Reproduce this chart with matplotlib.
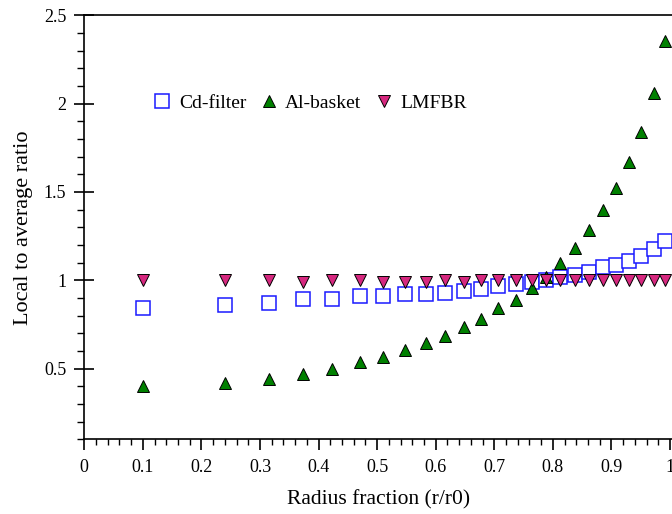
import numpy as np
import matplotlib
matplotlib.use('Agg')
import matplotlib.pyplot as plt
from matplotlib.ticker import FixedLocator, MultipleLocator

plt.rcParams['font.family'] = ['Liberation Serif', 'DejaVu Serif']

# radius fraction of each ring
radius = [0.1, 0.24, 0.315, 0.373, 0.423, 0.47, 0.51, 0.548, 0.583, 0.616,
          0.648, 0.677, 0.707, 0.737, 0.764, 0.789, 0.813, 0.838, 0.862,
          0.886, 0.907, 0.93, 0.951, 0.972, 0.992]

cd_filter = [0.842, 0.862, 0.872, 0.892, 0.892, 0.91, 0.91, 0.921, 0.921, 0.93,
             0.94, 0.95, 0.97, 0.979, 0.989, 1.0, 1.02, 1.03, 1.047,
             1.077, 1.087, 1.108, 1.138, 1.175, 1.225]

al_basket = [0.40, 0.42, 0.44, 0.469, 0.50, 0.536, 0.566, 0.608, 0.645, 0.686,
             0.735, 0.782, 0.842, 0.89, 0.955, 1.02, 1.096, 1.185, 1.283,
             1.40, 1.52, 1.667, 1.842, 2.06, 2.354]

lmfbr = [1.0, 1.0, 1.0, 0.99, 1.0, 1.0, 0.99, 0.99, 0.99, 1.0,
         0.99, 1.0, 1.0, 1.0, 1.0, 1.0, 1.0, 1.0, 1.0,
         1.0, 1.0, 1.0, 1.0, 1.0, 1.0]

x_ticks = [0, 0.1, 0.2, 0.3, 0.4, 0.5, 0.6, 0.7, 0.8, 0.9, 1.0]
x_labels = ['0', '0.1', '0.2', '0.3', '0.4', '0.5', '0.6', '0.7', '0.8', '0.9', '1']
y_ticks = [0.5, 1.0, 1.5, 2.0, 2.5]
y_labels = ['0.5', '1', '1.5', '2', '2.5']

fig = plt.figure(figsize=(6.72, 5.14), dpi=100)
ax = fig.add_axes([84.3 / 672, (514 - 439.3) / 514, 1 - 84.3 / 672, (439.3 - 15.3) / 514])

ax.plot(radius, cd_filter, ls='none', marker='s', ms=10, mfc='white',
        mec='#1a1aff', mew=1.1, label='Cd-filter')
ax.plot(radius, al_basket, ls='none', marker='^', ms=8.5, mfc='#008000',
        mec='black', mew=0.7, label='Al-basket')
ax.plot(radius, lmfbr, ls='none', marker='v', ms=8.5, mfc='#d6287f',
        mec='black', mew=0.7, label='LMFBR')

ax.set_xlim(0, (672 - 84.3) / 585.7)
ax.set_ylim(0.1, 2.5)

ax.xaxis.set_major_locator(FixedLocator(x_ticks))
ax.set_xticklabels(x_labels)
ax.xaxis.set_minor_locator(MultipleLocator(0.02))
ax.yaxis.set_major_locator(FixedLocator(y_ticks))
ax.set_yticklabels(y_labels)
ax.yaxis.set_minor_locator(MultipleLocator(0.1))

ax.spines['right'].set_visible(False)
for s in ['left', 'bottom', 'top']:
    ax.spines[s].set_linewidth(1.2)

ax.tick_params(axis='x', which='major', direction='out', length=8, width=1.2,
               labelsize=13, pad=6, top=False)
ax.tick_params(axis='x', which='minor', direction='out', length=4.5, width=1.0, top=False)
ax.tick_params(axis='y', which='major', direction='inout', length=14, width=1.2,
               labelsize=13, pad=6, right=False)
ax.tick_params(axis='y', which='minor', direction='out', length=5, width=1.0, right=False)

ax.set_xlabel('Radius fraction (r/r0)', fontsize=15.5, labelpad=10)
ax.set_ylabel('Local to average ratio', fontsize=16, labelpad=8)

ax.legend(loc='upper left', bbox_to_anchor=(0.083, 0.855), ncol=3, frameon=False,
          fontsize=14, handletextpad=0.25, columnspacing=0.55, handlelength=1.2)

fig.savefig('out.png', dpi=100)
